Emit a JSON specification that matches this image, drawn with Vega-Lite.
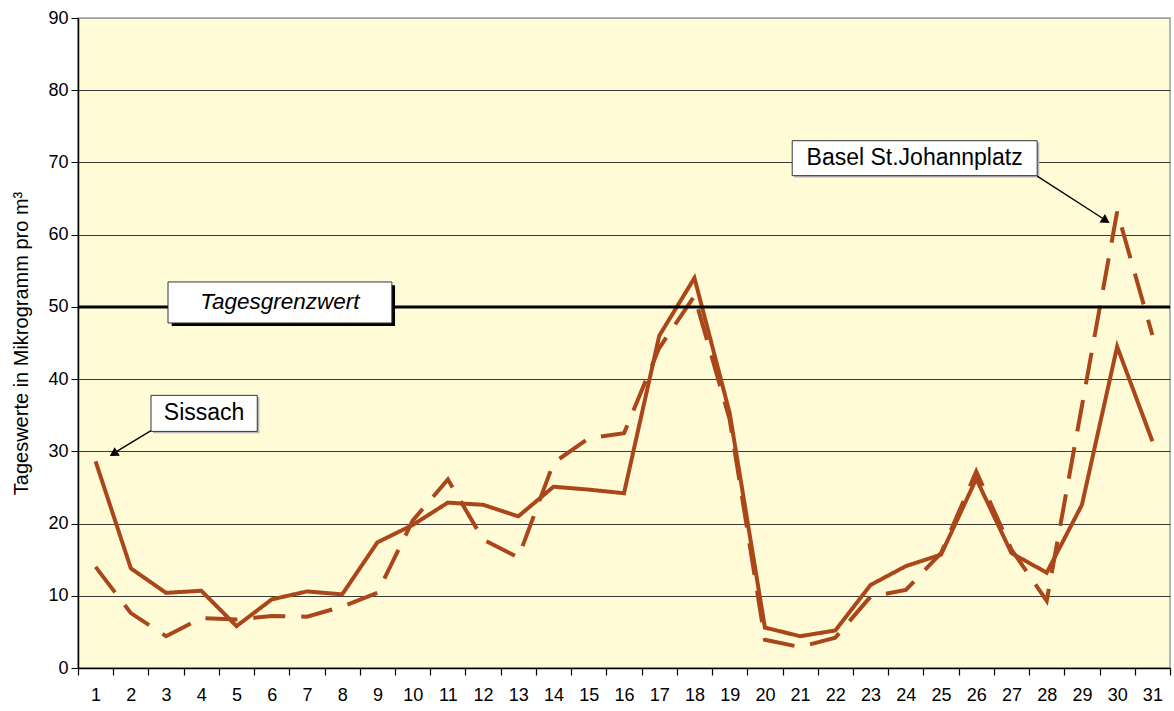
{
  "$schema": "https://vega.github.io/schema/vega-lite/v6.json",
  "width": 1092,
  "height": 650,
  "autosize": {"type": "none"},
  "padding": {"left": 78, "top": 18, "right": 4, "bottom": 43},
  "background": "white",
  "config": {
    "view": {"fill": "#FFFBD7", "stroke": "#A0A0A0", "strokeWidth": 1.5},
    "font": "Liberation Sans",
    "axis": {"labelFont": "Liberation Sans", "titleFont": "Liberation Sans", "labelColor": "black", "titleColor": "black", "domainColor": "black", "tickColor": "black"}
  },
  "datasets": {
    "messwerte": [
      {"tag": 1, "station": "Sissach", "wert": 28.6},
      {"tag": 2, "station": "Sissach", "wert": 13.8},
      {"tag": 3, "station": "Sissach", "wert": 10.4},
      {"tag": 4, "station": "Sissach", "wert": 10.7},
      {"tag": 5, "station": "Sissach", "wert": 5.8},
      {"tag": 6, "station": "Sissach", "wert": 9.5},
      {"tag": 7, "station": "Sissach", "wert": 10.6},
      {"tag": 8, "station": "Sissach", "wert": 10.2},
      {"tag": 9, "station": "Sissach", "wert": 17.4},
      {"tag": 10, "station": "Sissach", "wert": 19.8},
      {"tag": 11, "station": "Sissach", "wert": 22.9},
      {"tag": 12, "station": "Sissach", "wert": 22.6},
      {"tag": 13, "station": "Sissach", "wert": 21.0},
      {"tag": 14, "station": "Sissach", "wert": 25.1},
      {"tag": 15, "station": "Sissach", "wert": 24.7},
      {"tag": 16, "station": "Sissach", "wert": 24.2},
      {"tag": 17, "station": "Sissach", "wert": 46.0},
      {"tag": 18, "station": "Sissach", "wert": 54.0},
      {"tag": 19, "station": "Sissach", "wert": 35.3},
      {"tag": 20, "station": "Sissach", "wert": 5.6},
      {"tag": 21, "station": "Sissach", "wert": 4.4},
      {"tag": 22, "station": "Sissach", "wert": 5.2},
      {"tag": 23, "station": "Sissach", "wert": 11.5},
      {"tag": 24, "station": "Sissach", "wert": 14.1},
      {"tag": 25, "station": "Sissach", "wert": 15.7},
      {"tag": 26, "station": "Sissach", "wert": 26.2},
      {"tag": 27, "station": "Sissach", "wert": 15.9},
      {"tag": 28, "station": "Sissach", "wert": 13.2},
      {"tag": 29, "station": "Sissach", "wert": 22.6},
      {"tag": 30, "station": "Sissach", "wert": 44.5},
      {"tag": 31, "station": "Sissach", "wert": 31.4},
      {"tag": 1, "station": "Basel St.Johannplatz", "wert": 14.0},
      {"tag": 2, "station": "Basel St.Johannplatz", "wert": 7.6},
      {"tag": 3, "station": "Basel St.Johannplatz", "wert": 4.4},
      {"tag": 4, "station": "Basel St.Johannplatz", "wert": 6.9},
      {"tag": 5, "station": "Basel St.Johannplatz", "wert": 6.7},
      {"tag": 6, "station": "Basel St.Johannplatz", "wert": 7.2},
      {"tag": 7, "station": "Basel St.Johannplatz", "wert": 7.1},
      {"tag": 8, "station": "Basel St.Johannplatz", "wert": 8.5},
      {"tag": 9, "station": "Basel St.Johannplatz", "wert": 10.4},
      {"tag": 10, "station": "Basel St.Johannplatz", "wert": 20.4},
      {"tag": 11, "station": "Basel St.Johannplatz", "wert": 26.1},
      {"tag": 12, "station": "Basel St.Johannplatz", "wert": 17.8},
      {"tag": 13, "station": "Basel St.Johannplatz", "wert": 15.3},
      {"tag": 14, "station": "Basel St.Johannplatz", "wert": 28.4},
      {"tag": 15, "station": "Basel St.Johannplatz", "wert": 31.8},
      {"tag": 16, "station": "Basel St.Johannplatz", "wert": 32.5},
      {"tag": 17, "station": "Basel St.Johannplatz", "wert": 44.3},
      {"tag": 18, "station": "Basel St.Johannplatz", "wert": 51.5},
      {"tag": 19, "station": "Basel St.Johannplatz", "wert": 34.4},
      {"tag": 20, "station": "Basel St.Johannplatz", "wert": 3.9},
      {"tag": 21, "station": "Basel St.Johannplatz", "wert": 2.9},
      {"tag": 22, "station": "Basel St.Johannplatz", "wert": 4.2},
      {"tag": 23, "station": "Basel St.Johannplatz", "wert": 9.9},
      {"tag": 24, "station": "Basel St.Johannplatz", "wert": 10.8},
      {"tag": 25, "station": "Basel St.Johannplatz", "wert": 15.9},
      {"tag": 26, "station": "Basel St.Johannplatz", "wert": 27.2},
      {"tag": 27, "station": "Basel St.Johannplatz", "wert": 16.4},
      {"tag": 28, "station": "Basel St.Johannplatz", "wert": 9.3},
      {"tag": 29, "station": "Basel St.Johannplatz", "wert": 36.3},
      {"tag": 30, "station": "Basel St.Johannplatz", "wert": 63.2},
      {"tag": 31, "station": "Basel St.Johannplatz", "wert": 46.1}
    ],
    "grenzschatten": [
      {"name": "Tagesgrenzwert", "x1": 3.16, "x2": 9.50, "y1": 47.35, "y2": 53.0}
    ],
    "kleinschatten": [
      {"name": "Sissach", "x1": 2.63, "x2": 5.65, "y1": 32.5, "y2": 37.5},
      {"name": "Basel St.Johannplatz", "x1": 20.83, "x2": 27.79, "y1": 67.9, "y2": 72.75}
    ],
    "boxen": [
      {"name": "Tagesgrenzwert", "x1": 3.055, "x2": 9.41, "y1": 47.77, "y2": 53.45},
      {"name": "Sissach", "x1": 2.572, "x2": 5.589, "y1": 32.76, "y2": 37.75},
      {"name": "Basel St.Johannplatz", "x1": 20.775, "x2": 27.73, "y1": 68.17, "y2": 73.01}
    ],
    "beschriftung": [
      {"text": "Sissach", "x": 4.08, "y": 35.25},
      {"text": "Basel St.Johannplatz", "x": 24.25, "y": 70.59}
    ],
    "grenztext": [
      {"text": "Tagesgrenzwert", "x": 6.23, "y": 50.65}
    ],
    "pfeile": [
      {"pfeil": "Sissach", "punkt": 1, "x": 2.572, "y": 32.86},
      {"pfeil": "Sissach", "punkt": 2, "x": 1.45, "y": 29.55},
      {"pfeil": "Basel", "punkt": 1, "x": 27.73, "y": 68.1},
      {"pfeil": "Basel", "punkt": 2, "x": 29.75, "y": 61.75}
    ]
  },
  "layer": [
    {
      "data": {"name": "messwerte"},
      "mark": {"type": "line", "color": "#A9471B", "strokeWidth": 4, "strokeCap": "butt", "strokeJoin": "miter"},
      "encoding": {
        "x": {
          "field": "tag", "type": "quantitative",
          "scale": {"domain": [0.5, 31.5], "nice": false, "zero": false},
          "axis": {"orient": "bottom", "values": [1,2,3,4,5,6,7,8,9,10,11,12,13,14,15,16,17,18,19,20,21,22,23,24,25,26,27,28,29,30,31], "ticks": false, "labelPadding": 18, "labelFontSize": 18, "grid": false, "domain": true, "domainWidth": 1.5, "title": null, "format": "d", "labelFlush": false, "labelOverlap": false}
        },
        "y": {
          "field": "wert", "type": "quantitative",
          "scale": {"domain": [0, 90], "nice": false},
          "axis": {
            "values": [0,10,20,30,40,50,60,70,80,90],
            "grid": true,
            "gridColor": {"condition": {"test": "datum.value == 90", "value": "#A0A0A0"}, "value": "#3a3a3a"},
            "gridWidth": 1,
            "tickSize": 7, "labelPadding": 3, "labelFontSize": 18, "domainWidth": 1.5,
            "title": "Tageswerte in Mikrogramm pro m³", "titleFontSize": 20, "titleFontWeight": "normal", "titlePadding": 16
          }
        },
        "strokeDash": {"field": "station", "type": "nominal", "scale": {"domain": ["Sissach", "Basel St.Johannplatz"], "range": [[1, 0], [32, 16]]}, "legend": null}
      }
    },
    {
      "data": {"values": [{"grenzwert": 50}]},
      "mark": {"type": "rule", "color": "black", "strokeWidth": 3},
      "encoding": {"y": {"field": "grenzwert", "type": "quantitative"}}
    },
    {
      "data": {"name": "grenzschatten"},
      "mark": {"type": "rect", "color": "black"},
      "encoding": {
        "x": {"field": "x1", "type": "quantitative", "axis": null},
        "x2": {"field": "x2"},
        "y": {"field": "y1", "type": "quantitative"},
        "y2": {"field": "y2"}
      }
    },
    {
      "data": {"name": "kleinschatten"},
      "mark": {"type": "rect", "color": "#B8B8B8"},
      "encoding": {
        "x": {"field": "x1", "type": "quantitative", "axis": null},
        "x2": {"field": "x2"},
        "y": {"field": "y1", "type": "quantitative"},
        "y2": {"field": "y2"}
      }
    },
    {
      "data": {"name": "boxen"},
      "mark": {"type": "rect", "fill": "white", "stroke": "#333333", "strokeWidth": 1},
      "encoding": {
        "x": {"field": "x1", "type": "quantitative",
          "axis": {"orient": "bottom", "values": [0.5,1.5,2.5,3.5,4.5,5.5,6.5,7.5,8.5,9.5,10.5,11.5,12.5,13.5,14.5,15.5,16.5,17.5,18.5,19.5,20.5,21.5,22.5,23.5,24.5,25.5,26.5,27.5,28.5,29.5,30.5,31.5], "labels": false, "ticks": true, "tickSize": 7, "tickWidth": 1.2, "grid": false, "domain": false, "title": null}},
        "x2": {"field": "x2"},
        "y": {"field": "y1", "type": "quantitative"},
        "y2": {"field": "y2"}
      }
    },
    {
      "data": {"name": "beschriftung"},
      "mark": {"type": "text", "fontSize": 23, "font": "Liberation Sans", "color": "black", "align": "center", "baseline": "middle"},
      "encoding": {
        "x": {"field": "x", "type": "quantitative", "axis": null},
        "y": {"field": "y", "type": "quantitative"},
        "text": {"field": "text"}
      }
    },
    {
      "data": {"name": "grenztext"},
      "mark": {"type": "text", "fontSize": 22.5, "font": "Liberation Sans", "fontStyle": "italic", "color": "black", "align": "center", "baseline": "middle"},
      "encoding": {
        "x": {"field": "x", "type": "quantitative", "axis": null},
        "y": {"field": "y", "type": "quantitative"},
        "text": {"field": "text"}
      }
    },
    {
      "data": {"name": "pfeile"},
      "mark": {"type": "line", "color": "black", "strokeWidth": 1.3},
      "encoding": {
        "x": {"field": "x", "type": "quantitative", "axis": null},
        "y": {"field": "y", "type": "quantitative"},
        "detail": {"field": "pfeil"},
        "order": {"field": "punkt"}
      }
    },
    {
      "data": {"values": [{"x": 1.508, "y": 29.67}]},
      "mark": {"type": "point", "shape": "triangle-up", "filled": true, "color": "black", "size": 100, "opacity": 1, "angle": 239},
      "encoding": {
        "x": {"field": "x", "type": "quantitative", "axis": null},
        "y": {"field": "y", "type": "quantitative"}
      }
    },
    {
      "data": {"values": [{"x": 29.68, "y": 61.94}]},
      "mark": {"type": "point", "shape": "triangle-up", "filled": true, "color": "black", "size": 100, "opacity": 1, "angle": 123},
      "encoding": {
        "x": {"field": "x", "type": "quantitative", "axis": null},
        "y": {"field": "y", "type": "quantitative"}
      }
    }
  ],
  "resolve": {"axis": {"x": "independent"}}
}
